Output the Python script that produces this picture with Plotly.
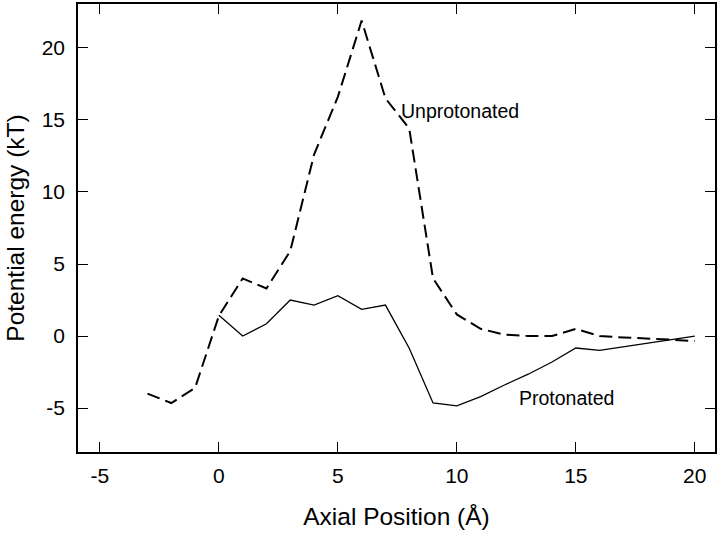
import plotly.graph_objects as go

x_unprot = list(range(-3, 21))
y_unprot = [-4.0, -4.65, -3.6, 1.4, 4.0, 3.3, 5.9, 12.6, 16.6, 21.9, 16.5, 14.4,
            4.0, 1.5, 0.5, 0.1, 0.0, 0.0, 0.5, 0.0, -0.1, -0.15, -0.25, -0.35]

x_prot = list(range(0, 21))
y_prot = [1.45, 0.0, 0.85, 2.5, 2.15, 2.8, 1.85, 2.15, -0.85, -4.65, -4.85,
          -4.2, -3.4, -2.65, -1.8, -0.83, -1.0, -0.75, -0.5, -0.25, 0.0]

tick_vals = [-5, 0, 5, 10, 15, 20]
tick_text = ["-5", "0", "5", "10", "15", "20"]

label_text = ["Unprotonated", "Protonated"]
label_x = [10.15, 14.6]
label_y = [15.6, -4.3]

font_family = "Liberation Sans, Arial, sans-serif"

fig = go.Figure()
fig.add_trace(go.Scatter(x=x_unprot, y=y_unprot, mode="lines",
                         line=dict(color="black", width=2, dash="13px,6px"),
                         showlegend=False))
fig.add_trace(go.Scatter(x=x_prot, y=y_prot, mode="lines",
                         line=dict(color="black", width=1.3),
                         showlegend=False))

for t, xx, yy in zip(label_text, label_x, label_y):
    fig.add_annotation(x=xx, y=yy, text=t, showarrow=False,
                       font=dict(size=19.5, color="black", family=font_family))

axis_common = dict(showgrid=False, zeroline=False, showline=True, linecolor="black",
                   linewidth=1.5, mirror="allticks", ticks="inside", ticklen=10,
                   tickcolor="black", tickwidth=1.2, automargin=False,
                   tickvals=tick_vals, ticktext=tick_text,
                   tickfont=dict(size=21, color="black", family=font_family))

fig.update_xaxes(range=[-5.92, 20.85], ticklabelstandoff=4,
                 title=dict(text="Axial Position (Å)",
                            font=dict(size=24.5, color="black", family=font_family),
                            standoff=22),
                 **axis_common)
fig.update_yaxes(range=[-8.05, 23.05], ticklabelstandoff=7,
                 title=dict(text="Potential energy (kT)",
                            font=dict(size=24.5, color="black", family=font_family),
                            standoff=10),
                 **axis_common)

fig.update_layout(width=720, height=533, margin=dict(l=78, r=5, t=4, b=81),
                  plot_bgcolor="white", paper_bgcolor="white")

fig.write_html("out.html", config={"displayModeBar": False},
               post_script="document.body.style.margin='0px';document.body.style.overflow='hidden';")
